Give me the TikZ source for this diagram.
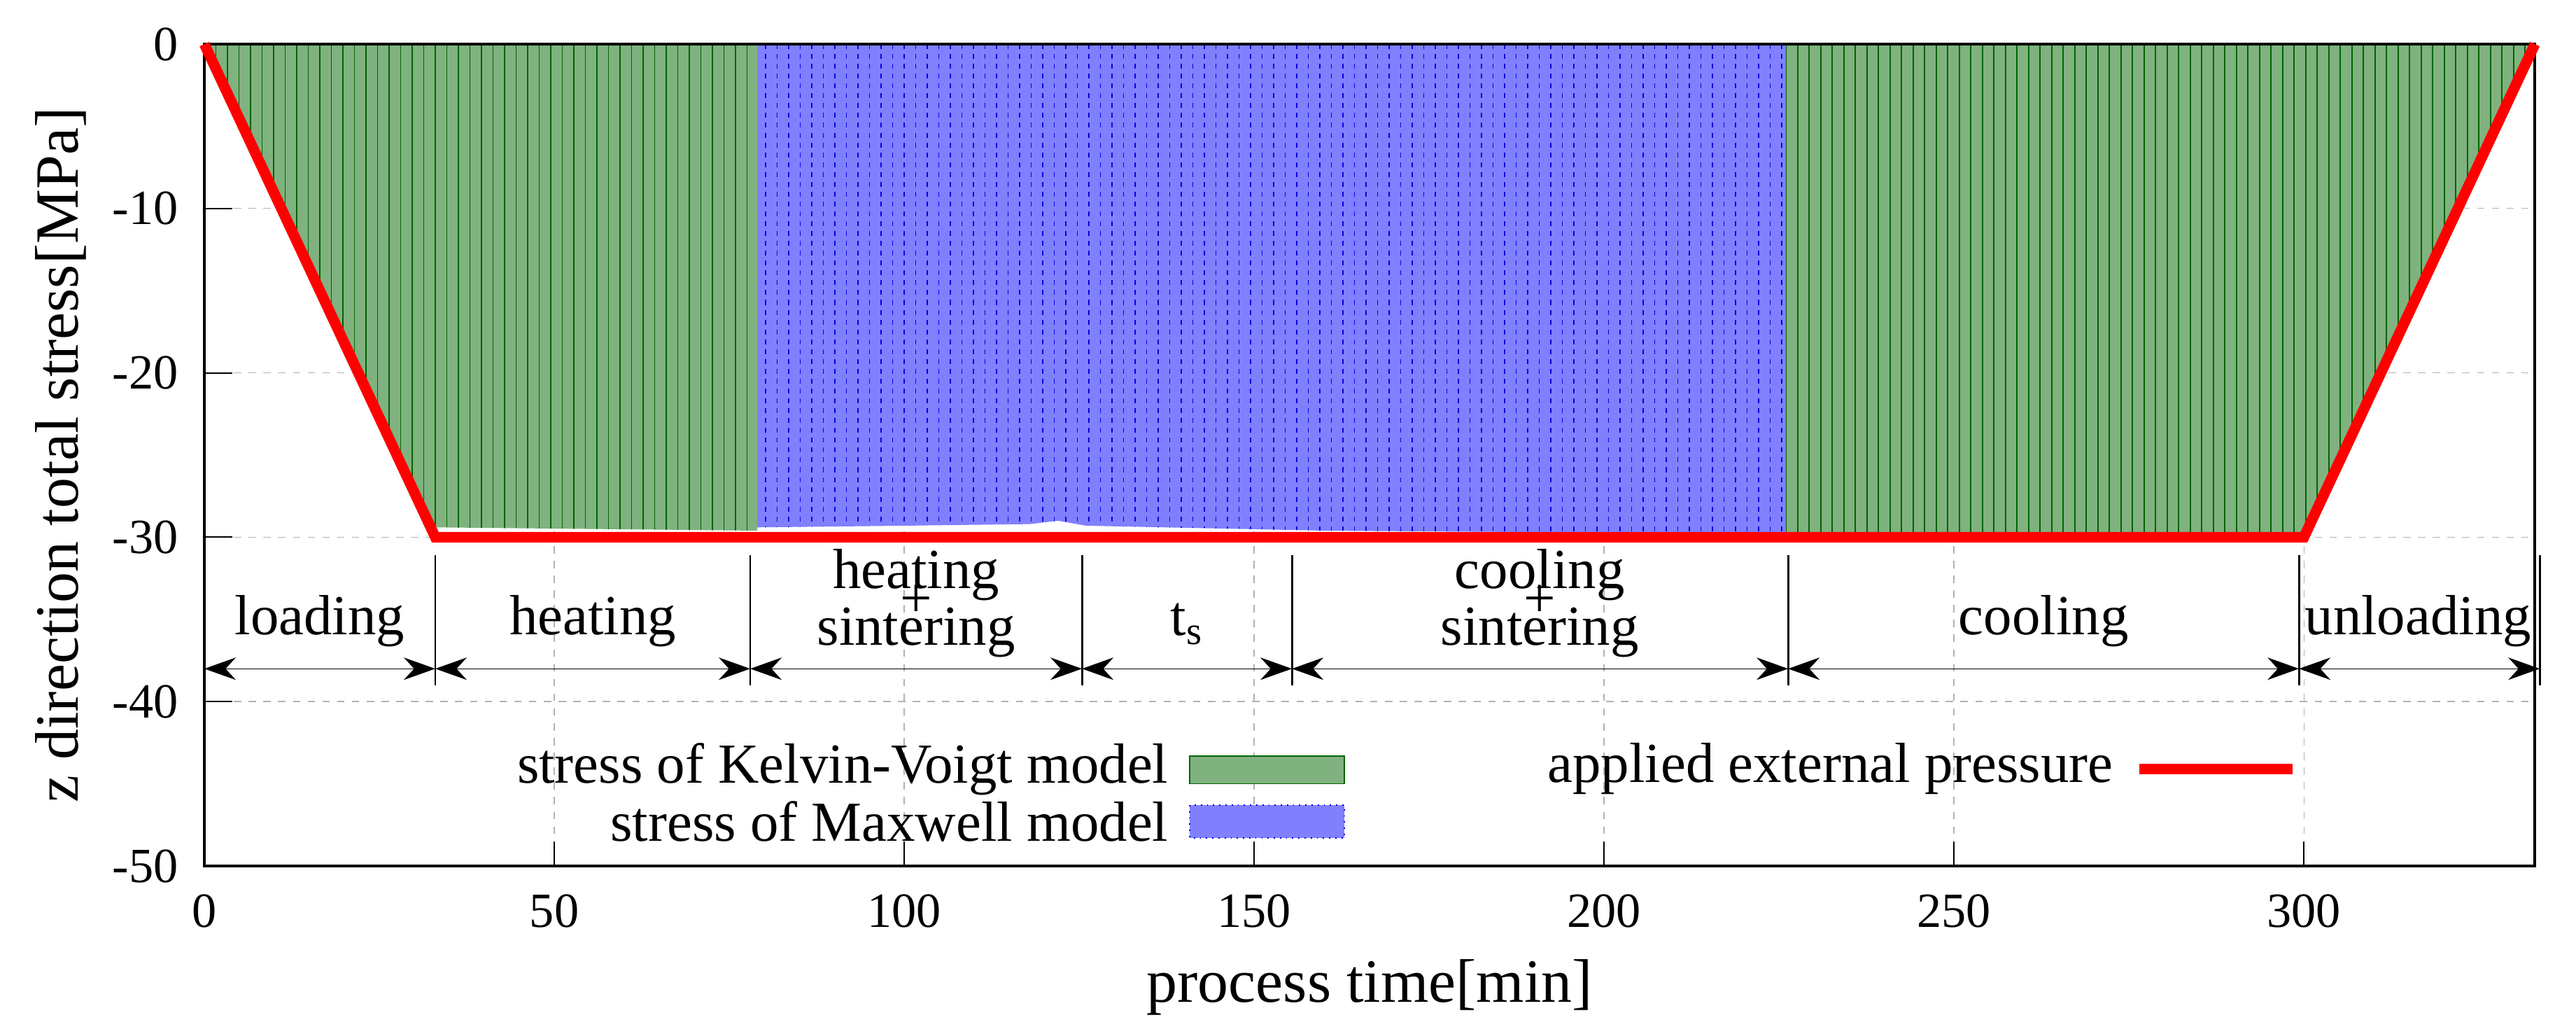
\documentclass[tikz,border=0pt]{standalone}
\usepackage{fontspec}
\setmainfont{Liberation Serif}
\usetikzlibrary{arrows.meta}
\definecolor{kv}{RGB}{128,178,128}
\definecolor{kvl}{RGB}{0,100,0}
\definecolor{mx}{RGB}{128,128,255}
\definecolor{mxl}{RGB}{0,0,230}
\tikzset{
  tick/.style={font=\fontsize{20}{20}\selectfont},
  phase/.style={font=\fontsize{23}{23}\selectfont, inner sep=1pt},
  dimarrow/.style={{Stealth[length=0.45cm,width=0.32cm]}-{Stealth[length=0.45cm,width=0.32cm]}, line width=0.4pt},
  grid/.style={gray!60, dashed, line width=0.4pt},
  legend/.style={font=\fontsize{23}{23}\selectfont, anchor=east, inner sep=2pt},
}
\begin{document}
\begin{tikzpicture}
\useasboundingbox (0,0) rectangle (36.81,14.67);
\begin{scope}[shift={(2.92cm,14.04cm)}, x=0.1cm, y=0.2348cm]
% grid
\foreach \yy in {-10,-20,-30,-40} \draw[grid] (0,\yy) -- (333,\yy);
\foreach \xx in {50,100,...,300} \draw[grid] (\xx,0) -- (\xx,-50);
% green left
\fill[kv] (0,0) -- (1,-0.6) -- (33,-29.4) -- (79,-29.6) -- (79,0) -- cycle;
\begin{scope}
\clip (0,0) -- (1,-0.6) -- (33,-29.4) -- (79,-29.6) -- (79,0) -- cycle;
\foreach \xx in {0,1.65,...,79} \draw[kvl, line width=0.5pt] (\xx,0) -- (\xx,-30);
\end{scope}
% blue
\fill[mx] (79,0) -- (79,-29.4) -- (100,-29.3) -- (118,-29.2) -- (122,-29.0) -- (126,-29.3) -- (160,-29.6) -- (226,-29.8) -- (226,0) -- cycle;
\begin{scope}
\clip (79,0) -- (79,-29.4) -- (100,-29.3) -- (118,-29.2) -- (122,-29.0) -- (126,-29.3) -- (160,-29.6) -- (226,-29.8) -- (226,0) -- cycle;
\foreach \xx in {80.2,81.85,...,226} \draw[mxl, dash pattern=on 2pt off 2pt, line width=0.4pt] (\xx,0) -- (\xx,-30);
\end{scope}
% green right
\fill[kv] (226,0) -- (226,-29.8) -- (300,-29.8) -- (333,0) -- cycle;
\begin{scope}
\clip (226,0) -- (226,-29.8) -- (300,-29.8) -- (333,0) -- cycle;
\foreach \xx in {226,227.65,...,333} \draw[kvl, line width=0.5pt] (\xx,0) -- (\xx,-30);
\end{scope}
% axes box
\draw[line width=1.2pt] (0,0) rectangle (333,-50);
\foreach \yy in {0,-10,-20,-30,-40,-50} {
  \draw[line width=0.6pt] (0,\yy) -- (4,\yy);
  \node[tick, anchor=east] at (-2.5,\yy) {\yy};
}
\foreach \xx in {0,50,100,...,300} {
  \draw[line width=0.6pt] (\xx,-50) -- (\xx,-48.5);
  \node[tick, anchor=north] at (\xx,-51.2) {\xx};
}
% red pressure
\coordinate (p0) at (0,0);
\coordinate (p1) at (33,-30);
\coordinate (p2) at (300,-30);
\coordinate (p3) at (333,0);
\draw[red, line width=4.3pt, line join=miter] (p0) -- (p1) -- (p2) -- (p3);
% phase dividers
\foreach \n/\xx in {d0/0,d1/33,d2/78,d3/125.4,d4/155.4,d5/226.3,d6/299.3,d7/333.7} {
  \coordinate (\n) at (\xx,-38);
}
\foreach \n/\xx in {d1/33,d2/78,d3/125.4,d4/155.4,d5/226.3,d6/299.3,d7/333.7}
  \draw[line width=0.8pt] (\xx,-31.1) -- (\xx,-39);
\draw[dimarrow] (d0) -- (d1);
\draw[dimarrow] (d1) -- (d2);
\draw[dimarrow] (d2) -- (d3);
\draw[dimarrow] (d3) -- (d4);
\draw[dimarrow] (d4) -- (d5);
\draw[dimarrow] (d5) -- (d6);
\draw[dimarrow] (d6) -- (d7);
\node[phase] (lload) at (16.5,-35.1) {loading};
\node[phase] (lheat) at (55.5,-35.1) {heating};
\node[phase] (lhs1) at (101.7,-32.3) {heating};
\node[phase] (lhs2) at (101.7,-33.9) {+};
\node[phase] (lhs3) at (101.7,-35.8) {sintering};
\node[phase] (lts) at (140.4,-35.3) {t\textsubscript{s}};
\node[phase] (lcs1) at (190.8,-32.3) {cooling};
\node[phase] (lcs2) at (190.8,-33.9) {+};
\node[phase] (lcs3) at (190.8,-35.8) {sintering};
\node[phase] (lcool) at (262.8,-35.1) {cooling};
\node[phase] (lunl) at (316.3,-35.1) {unloading};
% legend
\node[legend] (lkv) at (138.5,-44.1) {stress of Kelvin-Voigt model};
\fill[kv] (140.8,-43.3) rectangle (162.9,-45);
\draw[kvl, line width=0.5pt] (140.8,-43.3) rectangle (162.9,-45);
\node[legend] (lmx) at (138.5,-47.3) {stress of Maxwell model};
\fill[mx] (140.8,-46.3) rectangle (162.9,-48.3);
\draw[mxl, dotted, line width=0.5pt] (140.8,-46.3) rectangle (162.9,-48.3);
\node[legend] (lp) at (273.5,-44.1) {applied external pressure};
\coordinate (r0) at (276.5,-44.1);
\coordinate (r1) at (298.4,-44.1);
\draw[red, line width=4.3pt] (r0) -- (r1);
% axis labels
\node[font=\fontsize{25}{25}\selectfont] (xl) at (166.5,-57.4) {process time[min]};
\node[font=\fontsize{25}{25}\selectfont, rotate=90] (yl) at (-20.5,-25) {z direction total stress[MPa]};
\end{scope}
\end{tikzpicture}
\end{document}
